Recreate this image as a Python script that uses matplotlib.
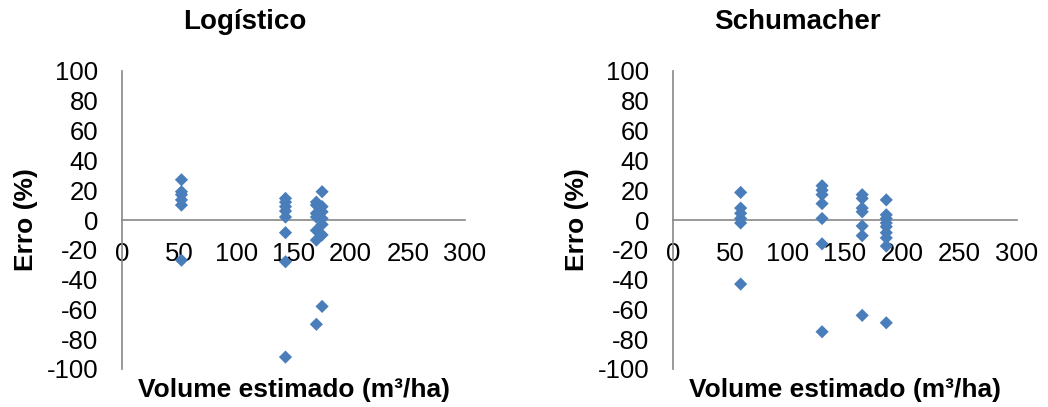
import numpy as np
import matplotlib
matplotlib.use("Agg")
from matplotlib import pyplot as plt

plt.rcParams["font.family"] = ["Liberation Sans", "DejaVu Sans"]
plt.rcParams["axes.unicode_minus"] = False

titles = ["Logístico", "Schumacher"]
x_label = "Volume estimado (m³/ha)"
y_label = "Erro (%)"

# Logístico
log_x = [52] * 6 + [143] * 8 + [170] * 7 + [175] * 7
log_y = [27, 19, 17, 13.5, 10, -27,
         14.5, 12, 9, 6, 2, -8.5, -28, -92,
         12, 10, 4.5, 2, -7, -13.5, -70,
         19, 9, 5.5, 1, -3, -10, -58]

# Schumacher
sch_x = [59] * 6 + [130] * 7 + [165] * 7 + [186] * 9
sch_y = [18.5, 8, 4.5, 1, -2, -43,
         23, 20, 17, 11, 1, -16, -75,
         17, 14.5, 8, 5.5, -4, -10.5, -64,
         13.5, 3.5, 1, -2, -4.5, -8.5, -12, -17.5, -69]

xticks = [0, 50, 100, 150, 200, 250, 300]
yticks = list(range(-100, 101, 20))

marker_color = "#4A7EBB"
axis_color = "#888888"

fig = plt.figure(figsize=(10.48, 4.07), dpi=100)

# axes boxes in pixels: (left, right)
boxes = [(122, 465), (673, 1017)]
top_px, bot_px = 71, 369
W, H = 1048, 407

data = [(log_x, log_y), (sch_x, sch_y)]
title_x = [245, 797]
ylabel_x = [26, 577]

for i in range(2):
    l, r = boxes[i]
    ax = fig.add_axes([l / W, 1 - bot_px / H, (r - l) / W, (bot_px - top_px) / H])
    xs, ys = data[i]
    ax.scatter(xs, ys, marker="D", s=45, color=marker_color, edgecolors="none", zorder=3)
    ax.set_xlim(0, 300)
    ax.set_ylim(-100, 100)
    ax.set_xticks(xticks)
    ax.set_yticks(yticks)
    ax.spines["top"].set_visible(False)
    ax.spines["right"].set_visible(False)
    ax.spines["bottom"].set_position(("data", 0))
    ax.spines["bottom"].set_color(axis_color)
    ax.spines["left"].set_color(axis_color)
    ax.spines["bottom"].set_linewidth(1.2)
    ax.spines["left"].set_linewidth(1.2)
    ax.tick_params(axis="both", length=0, labelsize=18.5)
    ax.tick_params(axis="y", pad=17)
    ax.tick_params(axis="x", pad=16)
    ax.patch.set_alpha(0)

    fig.text(title_x[i] / W, 1 - 22 / H, titles[i], ha="center", va="center",
             fontsize=20, fontweight="bold")
    fig.text(((l + r) / 2) / W, 1 - 390 / H, x_label, ha="center", va="center",
             fontsize=19, fontweight="bold")
    fig.text(ylabel_x[i] / W, 1 - 220 / H, y_label, ha="center", va="center",
             rotation=90, fontsize=19, fontweight="bold")

fig.savefig("out.png", dpi=100)
